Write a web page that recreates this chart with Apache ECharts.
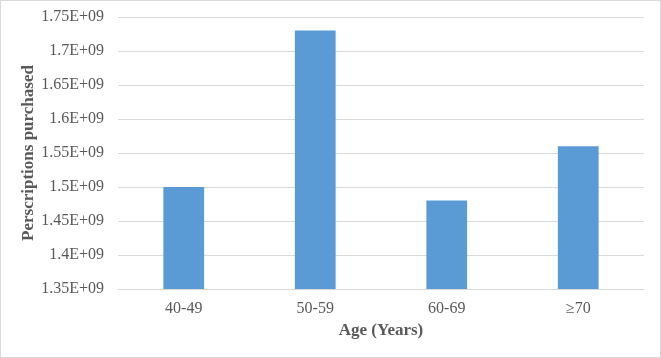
<!DOCTYPE html>
<html>
<head>
<meta charset="utf-8">
<script src="https://cdn.jsdelivr.net/npm/echarts@6/dist/echarts.min.js"></script>
<style>
  html, body { margin: 0; padding: 0; background: #fff; }
  #chart { width: 659px; height: 356px; border: 1px solid #d9d9d9; }
</style>
</head>
<body>
<div id="chart"></div>
<script>
const categories = ['40-49', '50-59', '60-69', '≥70']
const purchased = [1.50e9, 1.73e9, 1.48e9, 1.56e9]
const yMin = 1.35e9
const yMax = 1.75e9
const yStep = 0.05e9

const chart = echarts.init(document.getElementById('chart'))
const font = '"Liberation Serif", "Times New Roman", serif'

chart.setOption({
  animation: false,
  textStyle: { fontFamily: font },
  grid: {
    top: 16,
    left: 117,
    right: 16,
    bottom: 68
  },
  xAxis: {
    type: 'category',
    data: categories,
    name: 'Age (Years)',
    nameLocation: 'middle',
    nameGap: 33,
    nameMoveOverlap: false,
    nameTextStyle: { fontFamily: font, fontSize: 17, fontWeight: 'bold', color: '#595959' },
    axisLine: { lineStyle: { color: '#d9d9d9' } },
    axisTick: { show: false },
    axisLabel: { fontFamily: font, fontSize: 16, color: '#595959', margin: 12 }
  },
  yAxis: {
    type: 'value',
    min: yMin,
    max: yMax,
    interval: yStep,
    name: 'Perscriptions purchased',
    nameLocation: 'middle',
    nameGap: 81,
    nameMoveOverlap: false,
    nameTextStyle: { fontFamily: font, fontSize: 17, fontWeight: 'bold', color: '#595959' },
    axisLine: { show: false },
    axisTick: { show: false },
    splitLine: { lineStyle: { color: '#d9d9d9' } },
    axisLabel: {
      fontFamily: font,
      fontSize: 16,
      color: '#595959',
      margin: 14,
      formatter: v => parseFloat((v / 1e9).toFixed(2)) + 'E+09'
    }
  },
  series: [{
    type: 'bar',
    data: purchased,
    barWidth: '31%',
    itemStyle: { color: '#5b9bd5' }
  }]
})
</script>
</body>
</html>
